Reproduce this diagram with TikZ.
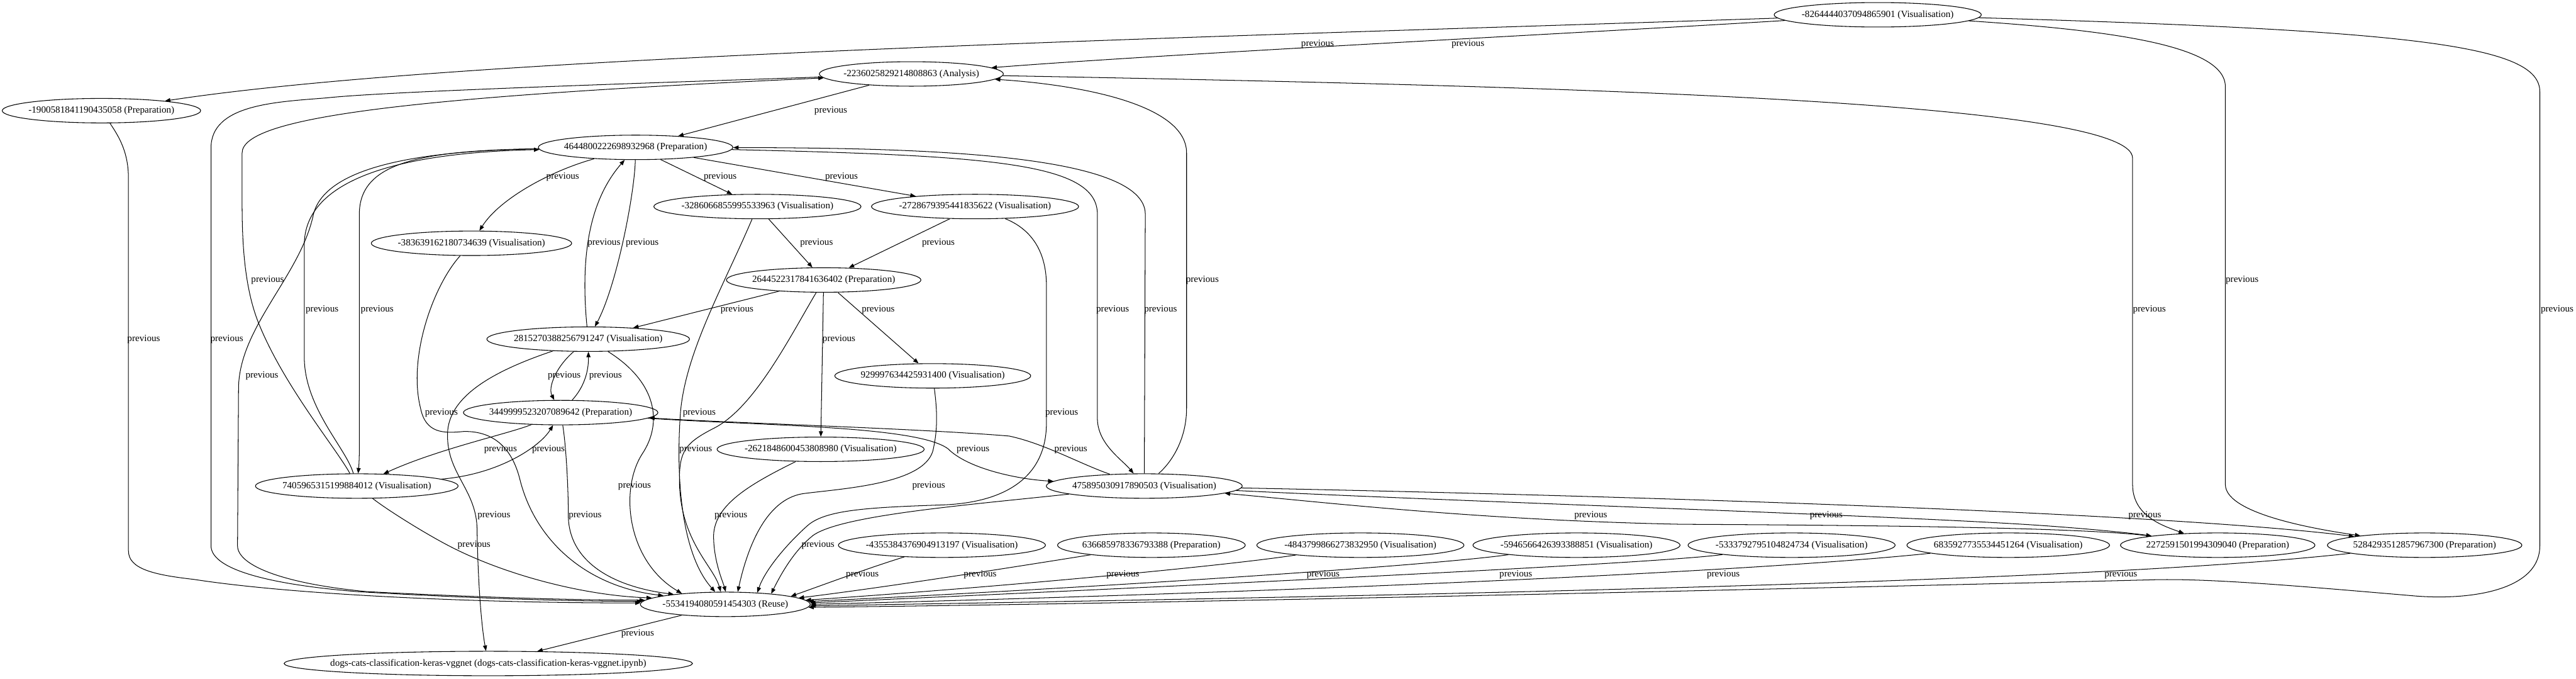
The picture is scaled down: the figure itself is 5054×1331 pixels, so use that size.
\documentclass[tikz,border=0pt]{standalone}
\usepackage{fontspec}
\setmainfont{Liberation Serif}
\usetikzlibrary{arrows.meta,shapes.geometric}
\begin{document}
\begin{tikzpicture}[x=0.75pt,y=-0.75pt,
  nd/.style={draw, ellipse, line width=1pt, minimum height=36pt, inner xsep=-4pt, inner ysep=1pt, font=\fontsize{14}{16}\selectfont},
  lb/.style={inner sep=0pt, font=\fontsize{14}{16}\selectfont},
  e/.style={line width=0.95pt, -{Triangle[length=8pt,width=6pt]}}]
\useasboundingbox (0,0) rectangle (5054,1331);
% nodes
\node[nd] (A) at (3684,29) {-8264444037094865901 (Visualisation)};
\node[nd] (B) at (1788,145) {-2236025829214808863 (Analysis)};
\node[nd] (C) at (199,217) {-1900581841190435058 (Preparation)};
\node[nd] (D) at (1247,289) {4644800222698932968 (Preparation)};
\node[nd] (E) at (1486,405) {-3286066855995533963 (Visualisation)};
\node[nd] (F) at (1913,405) {-2728679395441835622 (Visualisation)};
\node[nd] (G) at (925,477) {-383639162180734639 (Visualisation)};
\node[nd] (H) at (1616,549) {2644522317841636402 (Preparation)};
\node[nd] (I) at (1154,665) {2815270388256791247 (Visualisation)};
\node[nd] (J) at (1830,737) {929997634425931400 (Visualisation)};
\node[nd] (K) at (1100,809) {3449999523207089642 (Preparation)};
\node[nd] (L) at (1610,881) {-2621848600453808980 (Visualisation)};
\node[nd] (M) at (2245,953) {475895030917890503 (Visualisation)};
\node[nd] (N) at (700,953) {7405965315199884012 (Visualisation)};
\node[nd] (R) at (1423,1185) {-5534194080591454303 (Reuse)};
\node[nd, inner xsep=-20pt] (Z) at (958,1301) {dogs-cats-classification-keras-vggnet (dogs-cats-classification-keras-vggnet.ipynb)};
\node[nd] (P1) at (1848,1069) {-4355384376904913197 (Visualisation)};
\node[nd] (P2) at (2259,1069) {636685978336793388 (Preparation)};
\node[nd] (P3) at (2669,1069) {-4843799866273832950 (Visualisation)};
\node[nd] (P4) at (3093,1069) {-5946566426393388851 (Visualisation)};
\node[nd] (P5) at (3515,1069) {-5333792795104824734 (Visualisation)};
\node[nd] (P6) at (3940,1069) {6835927735534451264 (Visualisation)};
\node[nd] (Q1) at (4351,1069) {2272591501994309040 (Preparation)};
\node[nd] (Q2) at (4757,1069) {5284293512857967300 (Preparation)};
% labels
\node[lb] (l01) at (2585,87) {previous};
\node[lb] (l02) at (2880,87) {previous};
\node[lb] (l03) at (1630,217) {previous};
\node[lb] (l04) at (1104,347) {previous};
\node[lb] (l05) at (1413,347) {previous};
\node[lb] (l06) at (1651,347) {previous};
\node[lb] (l07) at (1185,477) {previous};
\node[lb] (l08) at (1260,477) {previous};
\node[lb] (l09) at (1602,477) {previous};
\node[lb] (l10) at (1841,477) {previous};
\node[lb] (l11) at (525,549) {previous};
\node[lb] (l12) at (2359,549) {previous};
\node[lb] (l13) at (4399,549) {previous};
\node[lb] (l14) at (632,607) {previous};
\node[lb] (l15) at (740,607) {previous};
\node[lb] (l16) at (1446,607) {previous};
\node[lb] (l17) at (1723,607) {previous};
\node[lb] (l18) at (2183,607) {previous};
\node[lb] (l19) at (2277,607) {previous};
\node[lb] (l20) at (4217,607) {previous};
\node[lb] (l21) at (5017,607) {previous};
\node[lb] (l22) at (282,665) {previous};
\node[lb] (l23) at (445,665) {previous};
\node[lb] (l24) at (1646,665) {previous};
\node[lb] (l25) at (514,737) {previous};
\node[lb] (l26) at (1107,737) {previous};
\node[lb] (l27) at (1188,737) {previous};
\node[lb] (l28) at (866,809) {previous};
\node[lb] (l29) at (1372,809) {previous};
\node[lb] (l30) at (2083,809) {previous};
\node[lb] (l31) at (982,881) {previous};
\node[lb] (l32) at (1076,881) {previous};
\node[lb] (l33) at (1365,881) {previous};
\node[lb] (l34) at (1909,881) {previous};
\node[lb] (l35) at (2101,881) {previous};
\node[lb] (l36) at (1245,953) {previous};
\node[lb] (l37) at (1822,953) {previous};
\node[lb] (l38) at (969,1011) {previous};
\node[lb] (l39) at (1148,1011) {previous};
\node[lb] (l40) at (1434,1011) {previous};
\node[lb] (l41) at (3121,1011) {previous};
\node[lb] (l42) at (3583,1011) {previous};
\node[lb] (l43) at (4208,1011) {previous};
\node[lb] (l44) at (930,1069) {previous};
\node[lb] (l45) at (1605,1069) {previous};
\node[lb] (l46) at (1692,1127) {previous};
\node[lb] (l47) at (1923,1127) {previous};
\node[lb] (l48) at (2203,1127) {previous};
\node[lb] (l49) at (2596,1127) {previous};
\node[lb] (l50) at (2974,1127) {previous};
\node[lb] (l51) at (3381,1127) {previous};
\node[lb] (l52) at (4161,1127) {previous};
\node[lb] (l53) at (1251,1243) {previous};
% edges from A
\draw[e] (A) .. controls (3100,65) and (2300,105) .. (B);
\draw[e] (A) .. controls (2300,75) and (900,110) .. (C);
\draw[e] (A) .. controls (4150,60) and (4366,90) .. (4366,170) -- (4366,950) .. controls (4366,1010) and (4560,1040) .. (Q2);
\draw[e] (A) .. controls (4750,60) and (4983,90) .. (4983,180) -- (4983,1070) .. controls (4983,1160) and (4840,1178) .. (4732,1168) .. controls (4520,1150) and (4330,1133) .. (4217,1137) .. controls (3500,1155) and (2200,1185) .. (R.-2);
% edges from B
\draw[e] (B) -- (D);
\draw[e] (B) .. controls (3000,168) and (4184,195) .. (4184,310) -- (4184,950) .. controls (4184,1010) and (4240,1030) .. (Q1);
\draw[e] (B) .. controls (1200,165) and (750,180) .. (640,192) .. controls (540,200) and (414,205) .. (414,290) -- (414,1070) .. controls (414,1115) and (520,1145) .. (700,1160) .. controls (950,1175) and (1150,1179) .. (R.178);
% C
\draw[e] (C) .. controls (235,270) and (252,300) .. (252,350) -- (252,1080) .. controls (252,1115) and (300,1127) .. (380,1136) .. controls (600,1170) and (1000,1183) .. (R.179);
% D
\draw[e] (D) .. controls (1080,335) and (980,390) .. (G);
\draw[e] (D) -- (E);
\draw[e] (D) -- (F);
\draw[e] (D) .. controls (1245,380) and (1210,560) .. (I);
\draw[e] (I) .. controls (1140,520) and (1150,400) .. (D);
\draw[e] (D) .. controls (1950,305) and (2153,320) .. (2153,420) -- (2153,820) .. controls (2153,870) and (2200,900) .. (M);
\draw[e] (M) -- (2247,420) .. controls (2247,300) and (1800,290) .. (D);
\draw[e] (D) .. controls (820,295) and (705,320) .. (705,420) -- (705,880) .. controls (705,900) and (704,915) .. (N);
\draw[e] (N) .. controls (680,880) and (597,800) .. (597,700) -- (597,480) .. controls (597,360) and (760,300) .. (D);
\draw[e] (D) .. controls (850,295) and (640,320) .. (615,420) .. controls (590,540) and (470,640) .. (468,760) -- (466,1070) .. controls (466,1110) and (560,1145) .. (720,1160) .. controls (950,1172) and (1150,1177) .. (R.177);
% E, F
\draw[e] (E) -- (H);
\draw[e] (F) -- (H);
\draw[e] (E) .. controls (1420,560) and (1345,690) .. (1335,809) .. controls (1325,950) and (1340,1090) .. (R.129);
\draw[e] (F) .. controls (2000,440) and (2053,470) .. (2053,560) -- (2053,830) .. controls (2053,930) and (1980,985) .. (1850,990) .. controls (1700,995) and (1620,1000) .. (1585,1030) .. controls (1540,1070) and (1500,1120) .. (R.20);
% to B from below
\draw[e] (M) .. controls (2300,905) and (2328,860) .. (2328,800) -- (2328,300) .. controls (2328,200) and (2100,165) .. (B);
\draw[e] (N) .. controls (660,880) and (560,760) .. (510,640) .. controls (480,570) and (475,480) .. (475,400) -- (475,300) .. controls (475,230) and (800,190) .. (B);
% H
\draw[e] (H) -- (I);
\draw[e] (H) -- (J);
\draw[e] (H) -- (L);
\draw[e] (H) .. controls (1550,660) and (1480,800) .. (1400,840) .. controls (1345,868) and (1333,885) .. (1333,940) .. controls (1333,1060) and (1400,1110) .. (R.110);
% I, K, G
\draw[e] (I) .. controls (1090,720) and (1075,760) .. (K);
\draw[e] (K) .. controls (1145,760) and (1155,730) .. (I);
\draw[e] (I) .. controls (1290,750) and (1300,830) .. (1260,890) .. controls (1215,960) and (1230,1100) .. (R.166);
\draw[e] (I) .. controls (960,730) and (880,780) .. (878,850) .. controls (876,930) and (936,960) .. (936,1040) .. controls (938,1150) and (945,1230) .. (Z);
\draw[e] (G) .. controls (850,560) and (800,700) .. (825,800) .. controls (835,850) and (870,850) .. (910,846) .. controls (970,845) and (1005,880) .. (1020,940) .. controls (1050,1060) and (1150,1150) .. (R.172);
\draw[e] (K) .. controls (1000,850) and (860,880) .. (N);
\draw[e] (N) .. controls (980,930) and (1060,875) .. (K);
\draw[e] (K) .. controls (1500,835) and (1800,835) .. (1860,880) .. controls (1900,920) and (2000,940) .. (M);
\draw[e] (M) .. controls (2120,910) and (2050,870) .. (1980,855) .. controls (1800,840) and (1450,830) .. (K);
\draw[e] (K) .. controls (1110,870) and (1115,950) .. (1115,1010) .. controls (1115,1100) and (1200,1150) .. (R.169);
% J, L, M, N to R
\draw[e] (J) .. controls (1838,800) and (1841,840) .. (1830,885) .. controls (1810,950) and (1650,958) .. (1575,968) .. controls (1500,980) and (1465,1080) .. (R.45);
\draw[e] (L) .. controls (1470,950) and (1402,990) .. (1400,1050) .. controls (1400,1100) and (1418,1140) .. (R.88);
\draw[e] (M) .. controls (1900,990) and (1650,1010) .. (1595,1050) .. controls (1560,1078) and (1535,1120) .. (R.13);
\draw[e] (N) .. controls (760,1000) and (840,1050) .. (890,1075) .. controls (1000,1130) and (1150,1168) .. (R.175);
% M and Q
\draw[e] (M) .. controls (3000,968) and (4200,1000) .. (Q2);
\draw[e] (M) .. controls (2900,985) and (3700,1010) .. (4000,1030) .. controls (4100,1037) and (4180,1045) .. (Q1);
\draw[e] (Q1) .. controls (4100,1035) and (3700,1030) .. (3300,1028) .. controls (2900,1020) and (2600,985) .. (M);
% bottom row to R
\draw[e] (P1) .. controls (1700,1115) and (1620,1145) .. (R.7);
\draw[e] (P2) .. controls (2000,1110) and (1750,1150) .. (R.5);
\draw[e] (P3) .. controls (2400,1110) and (1950,1152) .. (R.3);
\draw[e] (P4) .. controls (2800,1110) and (2100,1155) .. (R.2);
\draw[e] (P5) .. controls (3250,1105) and (2300,1150) .. (R.1);
\draw[e] (P6) .. controls (3400,1125) and (2400,1165) .. (R.0);
\draw[e] (Q2) .. controls (4200,1130) and (3300,1160) .. (R.-1);
\draw[e] (R) -- (Z);
\end{tikzpicture}
\end{document}
